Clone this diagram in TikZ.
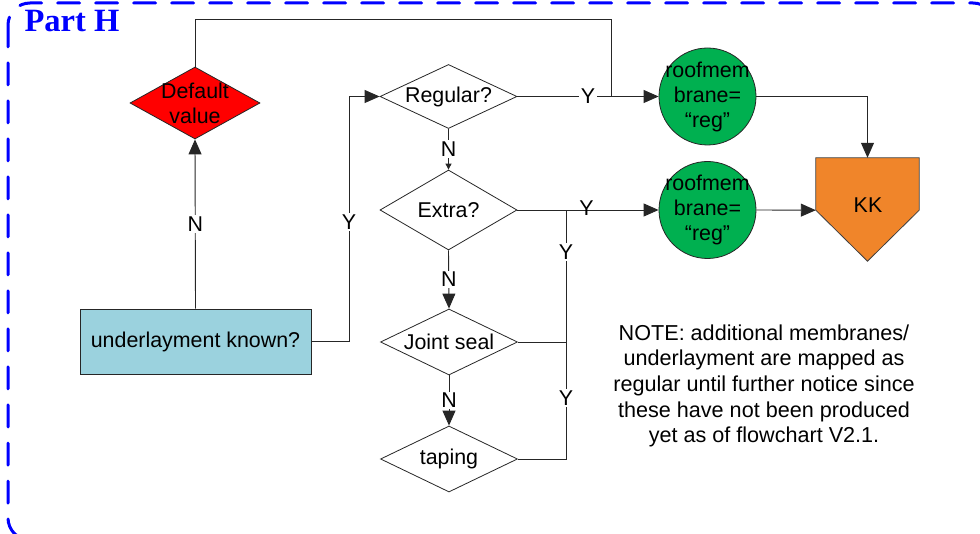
\documentclass[tikz,border=0pt]{standalone}
\usepackage{fontspec}
\setmainfont{Liberation Sans}
\newfontfamily\headfont{Liberation Serif}
\usetikzlibrary{shapes.geometric, arrows.meta, calc}
\definecolor{defred}{RGB}{255,0,0}
\definecolor{boxblue}{RGB}{155,210,222}
\definecolor{memgreen}{RGB}{0,176,80}
\definecolor{kkorange}{RGB}{240,133,42}
\definecolor{partblue}{RGB}{0,0,255}
\begin{document}
\begin{tikzpicture}[x=1pt, y=-1pt,
  font=\fontsize{21.4}{25}\selectfont,
  wire/.style={draw=black!85, line width=0.9pt},
  arr/.style={wire, -{Triangle[length=15pt,width=13pt]}},
  smallarr/.style={wire, -{Triangle[length=6pt,width=6pt]}},
  decision/.style={diamond, draw=black!85, line width=0.8pt, inner sep=0pt,
    minimum width=137pt, minimum height=66pt, fill=white},
  member/.style={circle, draw=black!85, line width=0.8pt, fill=memgreen,
    minimum size=97pt, inner sep=0pt,
    label={[align=center]center:roofmem\\brane=\\“reg”}},
  tag/.style={fill=white, inner sep=1.5pt},
  bare/.style={inner sep=1pt}
]
\useasboundingbox (0,0) rectangle (980,534);
\clip (0,0) rectangle (980,534);

% frame and title
\draw[partblue, line width=3pt, dash pattern=on 22pt off 16pt, line cap=round,
  rounded corners=22pt] (8,3) rectangle (995,540);
\node[anchor=base west, text=partblue, font=\headfont\bfseries\fontsize{32.5}{32.5}\selectfont]
  (title) at (21,32) {Part H};

% nodes
\node[rectangle, draw=black!85, line width=0.8pt, fill=boxblue,
  minimum width=231pt, minimum height=65pt] (und) at (195.5,341.5) {underlayment known?};
\node[decision, fill=defred, minimum width=130pt, minimum height=72pt,
  label={[align=center]center:Default\\value}] (dflt) at (195,103) {};
\node[decision, minimum height=64pt, label={center:Regular?}] (reg) at (448.5,96.5) {};
\node[decision, minimum height=80pt, label={center:Extra?}] (extra) at (448.5,210) {};
\node[decision, label={center:Joint seal}] (joint) at (449,342) {};
\node[decision, label={center:taping}] (taping) at (449,459) {};
\node[member] (c1) at (707.5,96.5) {};
\node[member] (c2) at (707.5,210) {};

% end shape
\node[minimum width=103pt, minimum height=52pt, inner sep=0pt] (kk) at (867.5,184) {};
\draw[draw=black!75, line width=0.8pt, fill=kkorange]
  (kk.north west) -- (kk.north east) -- (kk.south east)
  -- ($(kk.south)+(0,51)$) -- (kk.south west) -- cycle;
\node (kklabel) at (868,205) {KK};

% connectors
\draw[arr] (und.north) -- (dflt.south) node[midway, tag] {N};
\coordinate (ybend) at (349,96.5);
\draw[arr] (und.east) -| (ybend) -- (reg.west);
\node[tag] (ylabel) at (349,222) {Y};
\coordinate (topbend) at (611,19);
\draw[wire] (dflt.north) |- (topbend) -- (topbend |- reg.east);
\draw[arr] (reg.east) -- (c1.west) node[pos=0.5, tag] {Y};
\draw[smallarr] (reg.south) -- (extra.north) node[midway, tag] {N};
\draw[arr] (extra.east) -- (c2.west) node[pos=0.49, bare, yshift=2pt] {Y};
\coordinate (bus) at (566,210);
\draw[wire] (taping.east) -| (bus);
\draw[wire] (joint.east) -- (joint.east -| bus);
\node[tag] (y2) at (566,252) {Y};
\node[tag] (y3) at (566,398) {Y};
\draw[arr] (extra.south) -- (joint.north) node[midway, tag] {N};
\draw[arr] (joint.south) -- (taping.north) node[midway, tag] {N};
\draw[arr] (c1.east) -| (kk.north);
\draw[arr] (c2.east) -- (kk.south west);

% note
\node[align=center, font=\fontsize{21.6}{25.7}\selectfont] (note) at (764,386)
  {NOTE: additional membranes/\\underlayment are mapped as\\regular until further notice since\\these have not been produced\\yet as of flowchart V2.1.};
\end{tikzpicture}
\end{document}
